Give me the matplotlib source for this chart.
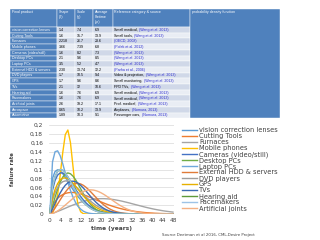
import matplotlib
matplotlib.use("Agg")
import matplotlib.pyplot as plt
import numpy as np
from matplotlib.patches import Rectangle
from matplotlib.ticker import FuncFormatter

# ---------------- table content ----------------
tbl_header = ["Final product", "Shape\n(β)", "Scale\n(η)", "Average\nlifetime\n(yr)",
              "Reference category & source"]
tbl_products = ["vision correction lenses", "Cutting Tools", "Furnaces", "Mobile phones",
                "Cameras (video/still)", "Desktop PCs", "Laptop PCs", "External HDD & servers",
                "DVD players", "GPS", "TVs", "Hearing aid", "Pacemakers", "Artificial joints",
                "Aerospace", "Automotive"]
tbl_shape = ["1.4", "1.6", "2.218", "3.66", "1.6", "2.1", "3.5", "2.30",
             "1.7", "1.7", "2.1", "1.6", "1.6", "2.6", "0.65", "1.89"]
tbl_scale = ["7.4", "15.7", "26.7", "7.39", "8.2", "9.6", "5.2", "13.74",
             "10.5", "9.6", "12", "7.6", "7.6", "19.2", "10.2", "10.3"]
tbl_life = ["6.9", "13.9", "23.6", "6.8", "7.3", "8.5", "4.7", "12.2",
            "9.4", "8.6", "10.6", "6.9", "6.9", "17.1", "13.9", "9.1"]
tbl_category = ["Small medical, ", "Small tools, ", "", "", "", "", "", "",
                "Video & projection, ", "Small monitoring, ", "FPD TVs, ", "Small medical, ",
                "Small medical, ", "Prof. medical, ", "Airplanes, ", "Passenger cars, "]
tbl_source = ["(Wang et al. 2013)", "(Wang et al. 2013)", "(OECD, 2008)", "(Polak et al. 2012)",
              "(Wang et al. 2013)", "(Wang et al. 2013)", "(Wang et al. 2013)", "(Parha et al., 2006)",
              "(Wang et al. 2013)", "(Wang et al. 2013)", "(Wang et al. 2013)", "(Wang et al. 2013)",
              "(Wang et al. 2013)", "(Wang et al. 2013)", "(Nomura, 2013)", "(Nomura, 2013)"]
pdf_header = "probability density function"

# ---------------- chart data (failure rate per year) ----------------
years = list(range(49))
vision = [0, .0800, .0955, .0994, .0969, .0908, .0825, .0734, .0640, .0549, .0465, .0388, .0321,
          .0262, .0212, .0170, .0136, .0107, .0084, .0065, .0050, .0039, .0029, .0022, .0017,
          .0013, .0009, .0007, .0005, .0004, .0003, .0002, .0002, .0001, .0001, 0, 0, 0, 0, 0,
          0, 0, 0, 0, 0, 0, 0, 0, 0]
cutting = [0, .0193, .0285, .0352, .0401, .0437, .0462, .0477, .0484, .0484, .0478, .0467, .0453,
           .0434, .0414, .0391, .0368, .0343, .0319, .0294, .0270, .0247, .0224, .0203, .0183,
           .0164, .0147, .0130, .0116, .0102, .0090, .0079, .0069, .0060, .0052, .0045, .0039,
           .0033, .0028, .0024, .0021, .0017, .0015, .0012, .0010, .0009, .0007, .0006, .0005]
furnaces = [0, .0015, .0035, .0058, .0081, .0105, .0130, .0155, .0179, .0202, .0224, .0245, .0265,
            .0282, .0298, .0312, .0323, .0332, .0339, .0343, .0345, .0345, .0342, .0338, .0331,
            .0323, .0313, .0302, .0290, .0276, .0262, .0248, .0232, .0217, .0202, .0187, .0172,
            .0157, .0143, .0130, .0117, .0105, .0094, .0084, .0074, .0065, .0057, .0050, .0043]
mobile = [0, .0024, .0152, .0434, .0871, .1379, .1785, .1888, .1607, .1069, .0537, .0196, .0050,
          .0008, .0001, 0, 0, 0, 0, 0, 0, 0, 0, 0, 0, 0, 0, 0, 0, 0, 0, 0, 0, 0, 0, 0, 0,
          0, 0, 0, 0, 0, 0, 0, 0, 0, 0, 0, 0]
cameras = [0, .0533, .0754, .0874, .0924, .0922, .0882, .0817, .0735, .0646, .0556, .0470, .0390,
           .0318, .0256, .0202, .0158, .0122, .0093, .0070, .0052, .0038, .0028, .0020, .0014,
           .0010, .0007, .0005, .0003, .0002, .0001, 0, 0, 0, 0, 0, 0, 0, 0, 0, 0, 0, 0, 0, 0,
           0, 0, 0, 0]
desktop = [0, .0180, .0375, .0558, .0712, .0828, .0899, .0923, .0905, .0851, .0770, .0672, .0566,
           .0461, .0364, .0278, .0206, .0148, .0103, .0070, .0046, .0029, .0018, .0011, .0006,
           .0003, .0002, .0001, 0, 0, 0, 0, 0, 0, 0, 0, 0, 0, 0, 0, 0, 0, 0, 0, 0, 0, 0, 0, 0]
laptop = [0, .117, .140, .142, .131, .113, .092, .071, .053, .038, .026, .017, .011, .0065,
          .0038, .0021, .0011, .0006, .0003, .0001, 0, 0, 0, 0, 0, 0, 0, 0, 0, 0, 0, 0, 0, 0,
          0, 0, 0, 0, 0, 0, 0, 0, 0, 0, 0, 0, 0, 0, 0]
hdd = [0, .0055, .0135, .0225, .0318, .0408, .0491, .0564, .0621, .0662, .0684, .0688, .0675,
       .0646, .0604, .0552, .0493, .0432, .0370, .0310, .0255, .0205, .0161, .0124, .0094,
       .0069, .0050, .0036, .0025, .0017, .0011, .0007, .0004, .0003, .0002, .0001, 0, 0, 0,
       0, 0, 0, 0, 0, 0, 0, 0, 0, 0]
dvd = [0, .0306, .0478, .0598, .0679, .0726, .0744, .0738, .0713, .0673, .0623, .0567, .0507,
       .0446, .0388, .0332, .0281, .0235, .0194, .0158, .0128, .0102, .0081, .0063, .0049,
       .0037, .0029, .0022, .0016, .0012, .0009, .0006, .0005, .0003, .0002, .0002, .0001, 0,
       0, 0, 0, 0, 0, 0, 0, 0, 0, 0, 0]
gps = [0, .0356, .0551, .0683, .0766, .0807, .0813, .0791, .0748, .0691, .0624, .0552, .0480,
       .0410, .0345, .0286, .0234, .0188, .0150, .0117, .0091, .0070, .0053, .0040, .0029,
       .0021, .0015, .0011, .0008, .0005, .0004, .0003, .0002, .0001, 0, 0, 0, 0, 0, 0, 0, 0,
       0, 0, 0, 0, 0, 0, 0]
tvs = [0, .0113, .0238, .0361, .0473, .0570, .0646, .0701, .0731, .0738, .0724, .0691, .0644,
       .0585, .0520, .0453, .0385, .0321, .0262, .0210, .0165, .0127, .0096, .0071, .0052,
       .0037, .0026, .0018, .0012, .0008, .0005, .0003, .0002, .0001, 0, 0, 0, 0, 0, 0, 0, 0,
       0, 0, 0, 0, 0, 0, 0]
hearing = [0, .0600, .0840, .0961, .1001, .0982, .0921, .0834, .0733, .0628, .0526, .0432, .0347,
           .0274, .0213, .0163, .0122, .0091, .0066, .0048, .0034, .0024, .0017, .0011, .0008,
           .0005, .0003, .0002, .0001, 0, 0, 0, 0, 0, 0, 0, 0, 0, 0, 0, 0, 0, 0, 0, 0, 0, 0, 0, 0]
pacemakers = [0, .0600, .0840, .0961, .1001, .0982, .0921, .0834, .0733, .0628, .0526, .0432,
              .0347, .0274, .0213, .0163, .0122, .0091, .0066, .0048, .0034, .0024, .0017, .0011,
              .0008, .0005, .0003, .0002, .0001, 0, 0, 0, 0, 0, 0, 0, 0, 0, 0, 0, 0, 0, 0, 0, 0,
              0, 0, 0, 0]
joints = [0, .0012, .0036, .0069, .0108, .0153, .0201, .0251, .0301, .0350, .0397, .0439, .0475,
          .0505, .0526, .0539, .0543, .0538, .0524, .0503, .0475, .0442, .0405, .0365, .0324,
          .0283, .0244, .0206, .0172, .0141, .0114, .0090, .0071, .0054, .0041, .0030, .0022,
          .0016, .0011, .0007, .0005, .0003, .0002, .0001, 0, 0, 0, 0, 0]

series_names = ["vision correction lenses", "Cutting Tools", "Furnaces", "Mobile phones",
                "Cameras (video/still)", "Desktop PCs", "Laptop PCs", "External HDD & servers",
                "DVD players", "GPS", "TVs", "Hearing aid", "Pacemakers", "Artificial joints"]
series_values = [vision, cutting, furnaces, mobile, cameras, desktop, laptop, hdd,
                 dvd, gps, tvs, hearing, pacemakers, joints]
series_colors = ["#5B9BD5", "#ED7D31", "#A5A5A5", "#FFC000", "#4472C4", "#70AD47",
                 "#6FA8DC", "#E07B39", "#9E9E9E", "#E6B000", "#3D6BB3", "#5E9A3A",
                 "#9DC3E6", "#F4B183"]

fig = plt.figure(figsize=(3.2, 2.4), dpi=100)
fig.patch.set_facecolor("white")

# ---------------- table (drawn in pixel units) ----------------
tax = fig.add_axes([0, 0, 1, 1])
tax.set_xlim(0, 320)
tax.set_ylim(240, 0)
tax.axis("off")

col_edges = [10, 57, 75, 93, 113, 190, 280]
top, head_h, row_h = 9, 18, 5.7
blue, band1, band2 = "#4F81BD", "#D0D8E8", "#E9EDF4"
tfont = dict(family="Liberation Sans", fontsize=2.6)

for j, h in enumerate(tbl_header):
    x0, x1 = col_edges[j], col_edges[j + 1]
    tax.add_patch(Rectangle((x0, top), x1 - x0, head_h, fc=blue, ec="white", lw=0.3))
    tax.text(x0 + 1.5, top + 1.2, h, color="white", va="top", ha="left",
             linespacing=1.35, **tfont)

for i in range(len(tbl_products)):
    y0 = top + head_h + i * row_h
    yc = y0 + row_h / 2
    band = band1 if i % 2 == 0 else band2
    cells = [tbl_products[i], tbl_shape[i], tbl_scale[i], tbl_life[i], ""]
    for j, txt in enumerate(cells):
        x0, x1 = col_edges[j], col_edges[j + 1]
        fc = blue if j == 0 else band
        rect = Rectangle((x0, y0), x1 - x0, row_h, fc=fc, ec="white", lw=0.3)
        tax.add_patch(rect)
        if txt:
            tax.text(x0 + 1.5, yc, txt, color="white" if j == 0 else "black",
                     va="center", ha="left", **tfont)
    x0 = col_edges[4]
    if tbl_category[i]:
        t1 = tax.text(x0 + 1.5, yc, tbl_category[i], color="black", va="center", ha="left", **tfont)
        tax.annotate(tbl_source[i], xy=(1, 0.5), xycoords=t1, va="center", ha="left",
                     color="#2B2BD0", **tfont)
    else:
        tax.text(x0 + 1.5, yc, tbl_source[i], color="#2B2BD0", va="center", ha="left", **tfont)

table_bottom = top + head_h + len(tbl_products) * row_h
tax.add_patch(Rectangle((col_edges[5], top), col_edges[6] - col_edges[5], table_bottom - top,
                        fc=blue, ec="white", lw=0.3, zorder=3))
tax.text(col_edges[5] + 1.5, top + 1.2, pdf_header, color="white", va="top", ha="left",
         zorder=4, **tfont)

# ---------------- failure rate chart ----------------
ax = fig.add_axes([0.152, 0.1083, 0.3925, 0.3708])
for name, vals, col in zip(series_names, series_values, series_colors):
    ax.plot(years, vals, color=col, lw=1.0, label=name)

ax.set_xlim(-0.5, 48.5)
ax.set_ylim(0, 0.2)
ax.set_yticks(np.arange(0, 0.201, 0.02))
ax.set_xticks(years[::4])
ax.yaxis.set_major_formatter(FuncFormatter(
    lambda v, _: f"{v:.2f}".rstrip("0").rstrip(".").replace(".", ",")))
ax.tick_params(length=0, labelsize=4.2, colors="#404040")
ax.tick_params(axis="y", pad=4)
ax.tick_params(axis="x", pad=3)
for s in ax.spines.values():
    s.set_visible(False)
ax.grid(axis="y", color="#D9D9D9", lw=0.5)
ax.set_axisbelow(True)

ax.set_ylabel("failure rate", fontsize=3.8, fontweight="bold", color="#404040")
ax.yaxis.set_label_coords(-0.27, 0.5)
ax.set_xlabel("time (years)", fontsize=4.2, fontweight="bold", color="#404040")
ax.xaxis.set_label_coords(0.5, -0.135)

fig.legend(*ax.get_legend_handles_labels(), loc="upper left",
           bbox_to_anchor=(182 / 320, 1 - 127 / 240), frameon=False, fontsize=4.8,
           handlelength=2.25, handletextpad=0.3, labelspacing=0.0,
           borderpad=0, borderaxespad=0, labelcolor="#404040")

fig.text(162 / 320, 1 - 235 / 240, "Source Deetman et al 2016, CML-Desire Project",
         fontsize=2.8, va="center", ha="left", color="#404040")

fig.savefig("out.png", dpi=100)
